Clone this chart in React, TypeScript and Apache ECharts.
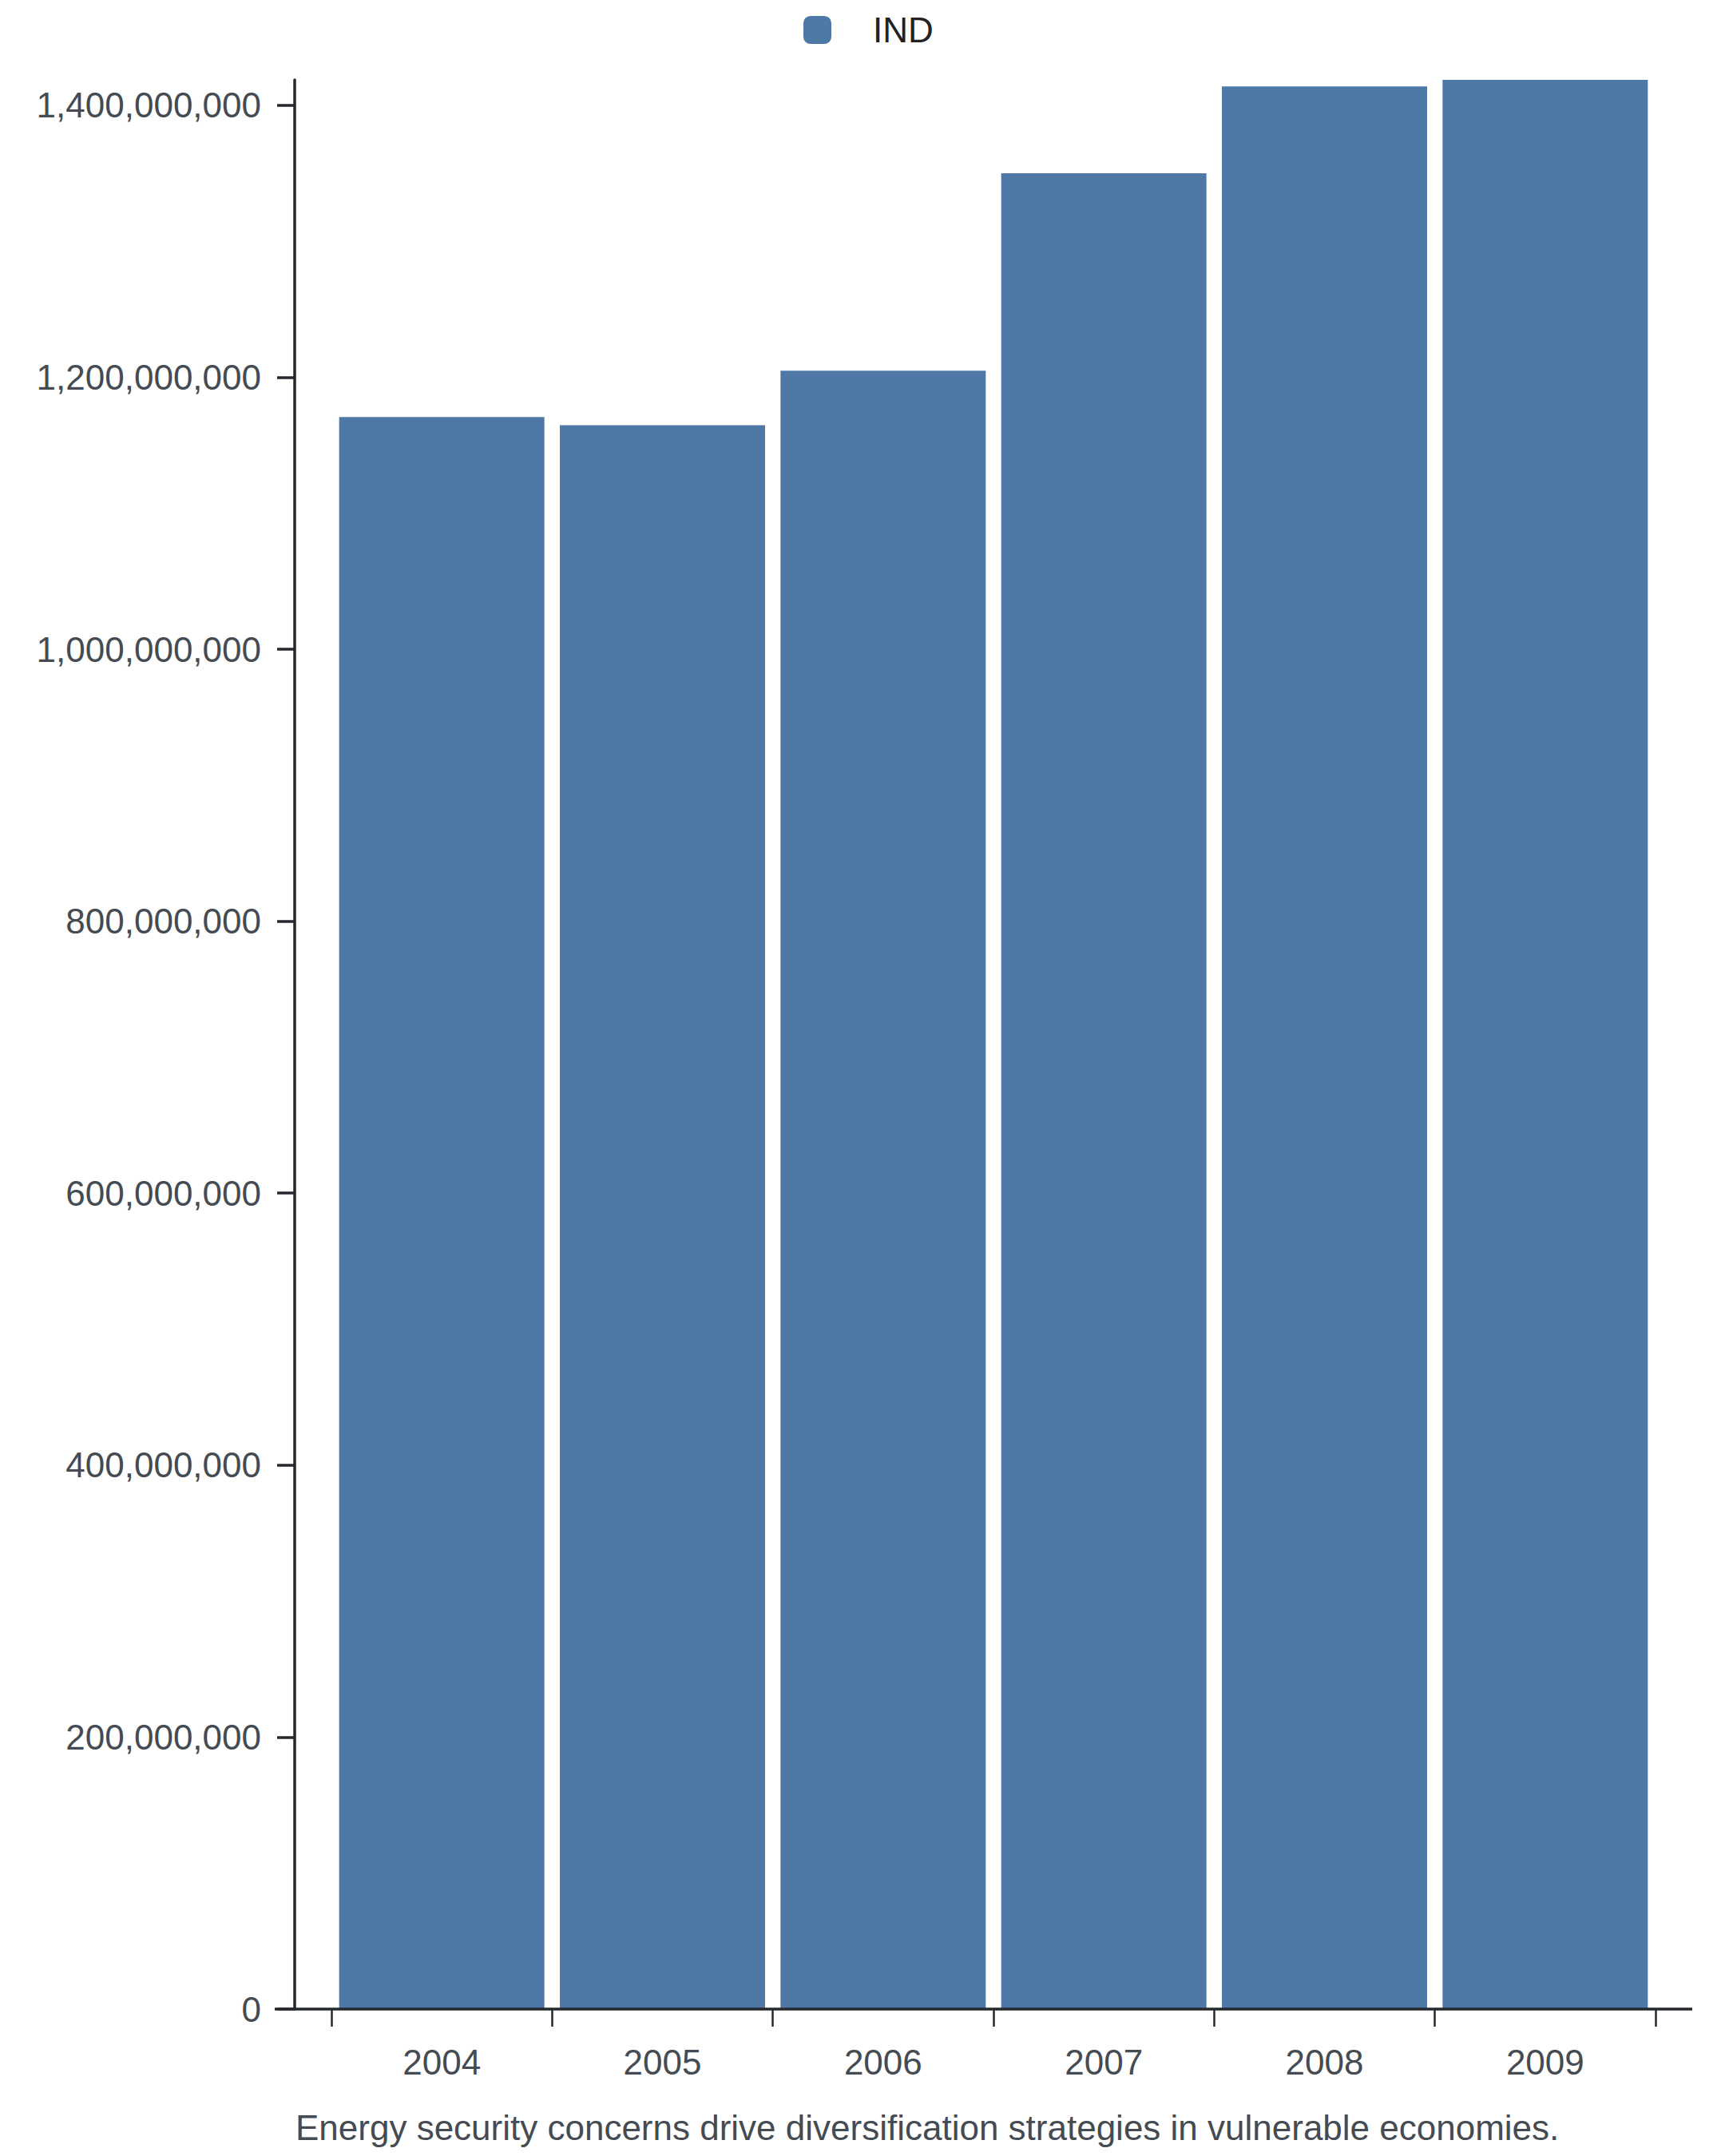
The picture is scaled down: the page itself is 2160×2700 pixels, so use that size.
import React, { useEffect, useRef } from "react";
import * as echarts from "echarts";

const years = ["2004", "2005", "2006", "2007", "2008", "2009"];
const seriesName = "IND";
const values = [1170700000, 1164800000, 1204800000, 1350000000, 1413800000, 1418700000];
const yTicks = [0, 200000000, 400000000, 600000000, 800000000, 1000000000, 1200000000, 1400000000];
const caption = "Energy security concerns drive diversification strategies in vulnerable economies.";

const FONT = "'Liberation Sans', Arial, Helvetica, sans-serif";
const LABEL = "#454b52";
const AXIS = "#25282c";
const BAR = "#4e79a7";

export default function App() {
  const ref = useRef<HTMLDivElement | null>(null);

  useEffect(() => {
    document.body.style.margin = "0";
    if (!ref.current) return;
    const chart = echarts.init(ref.current, undefined, { renderer: "svg" });
    chart.setOption({
      animation: false,
      backgroundColor: "#ffffff",
      textStyle: { fontFamily: FONT },
      legend: {
        data: [seriesName],
        top: 15.5,
        left: 1006,
        padding: 0,
        icon: "roundRect",
        itemWidth: 35,
        itemHeight: 35,
        selectedMode: false,
        textStyle: { fontSize: 44, color: "#222222", fontFamily: FONT, padding: [0, 0, 0, 47] },
      },
      grid: { left: 415, right: 87, top: 100, bottom: 184, containLabel: false },
      xAxis: {
        type: "category",
        data: years,
        axisLine: { show: false },
        axisTick: { show: true, length: 22, lineStyle: { color: AXIS, width: 2.5 } },
        axisLabel: { fontSize: 44, color: LABEL, margin: 44, fontFamily: FONT },
        splitLine: { show: false },
      },
      yAxis: {
        type: "value",
        min: 0,
        max: "dataMax",
        offset: 46,
        axisLine: { show: true, lineStyle: { color: AXIS, width: 3.5 } },
        axisTick: { show: true, length: 22, lineStyle: { color: AXIS, width: 3.5 }, customValues: yTicks },
        axisLabel: {
          fontSize: 44,
          color: LABEL,
          margin: 42,
          fontFamily: FONT,
          customValues: yTicks,
          formatter: (v: number) => Math.round(v).toLocaleString("en-US"),
        },
        splitLine: { show: false },
      },
      series: [
        {
          type: "bar",
          name: seriesName,
          data: values,
          barCategoryGap: "7%",
          itemStyle: { color: BAR },
        },
      ],
      graphic: [
        {
          type: "line",
          z: 100,
          shape: { x1: 344, y1: 2516, x2: 2119, y2: 2516 },
          style: { stroke: AXIS, lineWidth: 3.5 },
        },
        {
          type: "text",
          left: 370,
          top: 2642,
          style: { text: caption, fontSize: 44, fill: LABEL, fontFamily: FONT },
        },
      ],
    });
    return () => chart.dispose();
  }, []);

  return <div ref={ref} style={{ width: 2160, height: 2700 }} />;
}
